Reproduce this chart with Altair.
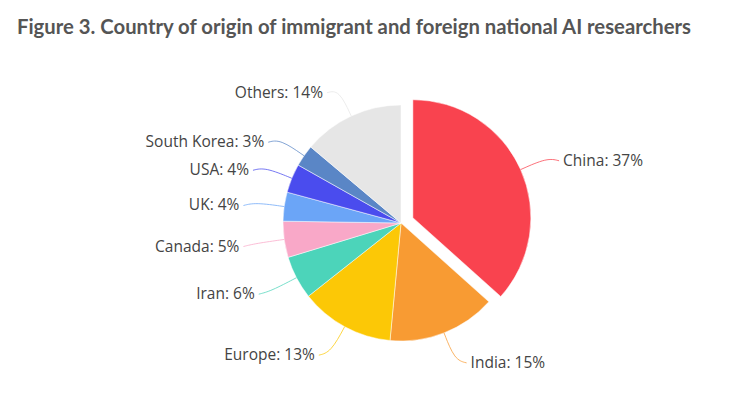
import altair as alt
import pandas as pd

countries = ["China", "India", "Europe", "Iran", "Canada", "UK", "USA", "South Korea", "Others"]
shares = [37, 15, 13, 6, 5, 4, 4, 3, 14]
colors = ["#F9434F", "#F89B33", "#FCC806", "#4CD4BA", "#F9A8C8", "#6BA5F7", "#4A4CEE", "#5A86C6", "#E6E6E6"]

CX, CY = 384, 181
R = 118
LR = 147

df = pd.DataFrame({"idx": list(range(len(countries))), "country": countries, "share": shares})

color = alt.Color("country:N", scale=alt.Scale(domain=countries, range=colors), legend=None)

base = (
    alt.Chart(df)
    .transform_window(cum="sum(share)", sort=[alt.SortField("idx")], frame=[None, 0])
    .transform_joinaggregate(total="sum(share)")
    .transform_calculate(start="(datum.cum - datum.share) / datum.total * 2 * PI")
    .transform_calculate(end="datum.cum / datum.total * 2 * PI")
    .transform_calculate(mid="(datum.start + datum.end) / 2")
    .transform_calculate(ex="datum.country == 'China' ? 13 : 0")
    .transform_calculate(cx=f"{CX} + datum.ex * sin(datum.mid)")
    .transform_calculate(cy=f"{CY} - datum.ex * cos(datum.mid)")
    .transform_calculate(side="sin(datum.mid) >= 0 ? 1 : -1")
    .transform_calculate(label="datum.country + ': ' + datum.share + '%'")
    .transform_calculate(lx=f"datum.cx + {LR} * sin(datum.mid) + datum.side * 16")
    .transform_calculate(ly=f"datum.cy - {LR} * cos(datum.mid) + 3")
)

arcs = base.mark_arc(outerRadius=R, stroke="white", strokeWidth=0.5).encode(
    x=alt.X("cx:Q", scale=None, axis=None),
    y=alt.Y("cy:Q", scale=None, axis=None),
    theta=alt.Theta("start:Q", scale=None),
    theta2="end:Q",
    color=color,
)

leaders = (
    base.transform_calculate(k="[0, 1, 2]")
    .transform_flatten(["k"])
    .transform_calculate(r=f"datum.k == 0 ? {R} : {LR}")
    .transform_calculate(px="datum.cx + datum.r * sin(datum.mid) + (datum.k == 2 ? datum.side * 12 : 0)")
    .transform_calculate(py="datum.cy - datum.r * cos(datum.mid) + (datum.k == 2 ? 3 : 0)")
    .mark_line(interpolate="basis", strokeWidth=1, opacity=0.75)
    .encode(
        x=alt.X("px:Q", scale=None, axis=None),
        y=alt.Y("py:Q", scale=None, axis=None),
        detail="country:N",
        order="k:Q",
        color=color,
    )
)

text_style = dict(baseline="middle", font="Open Sans", fontSize=15.5, color="#444444")

right_labels = base.transform_filter("datum.side > 0").mark_text(align="left", **text_style).encode(
    x=alt.X("lx:Q", scale=None, axis=None),
    y=alt.Y("ly:Q", scale=None, axis=None),
    text="label:N",
)
left_labels = base.transform_filter("datum.side < 0").mark_text(align="right", **text_style).encode(
    x=alt.X("lx:Q", scale=None, axis=None),
    y=alt.Y("ly:Q", scale=None, axis=None),
    text="label:N",
)

chart = (
    alt.layer(arcs, leaders, right_labels, left_labels)
    .properties(
        width=734,
        height=383,
        autosize=alt.AutoSizeParams(type="fit", contains="padding"),
        padding={"left": 9, "top": 9, "right": 5, "bottom": 5},
        title=alt.Title(
            "Figure 3. Country of origin of immigrant and foreign national AI researchers",
            anchor="start",
            font="Lato",
            fontSize=20.3,
            fontWeight="bold",
            color="#555555",
        ),
    )
    .configure_view(stroke=None)
)

chart.save("out.html", embed_options={"renderer": "svg", "actions": False})
